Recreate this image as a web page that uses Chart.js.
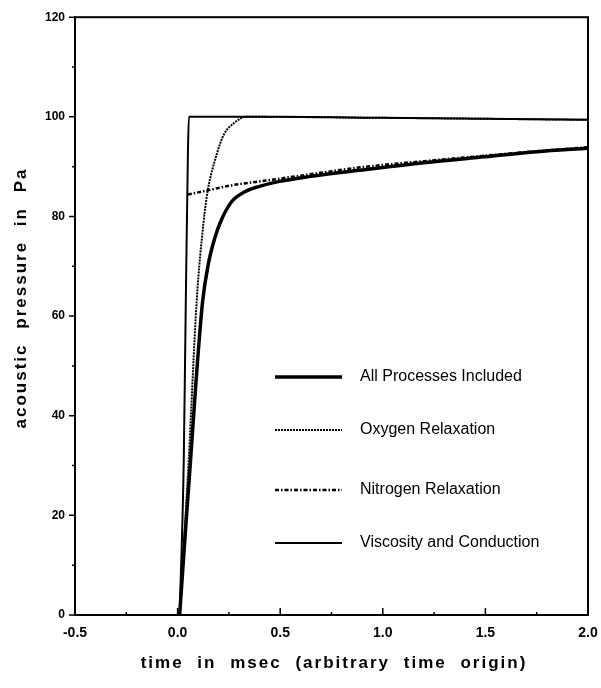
<!DOCTYPE html>
<html>
<head>
<meta charset="utf-8">
<script src="https://cdn.jsdelivr.net/npm/chart.js@4"></script>
<style>
  html, body { margin: 0; padding: 0; background: #fff; }
  canvas { display: block; }
</style>
</head>
<body>
<canvas id="pressureChart" width="601" height="688"></canvas>
<script>
// values (time in msec, pressure in Pa)
const allTime = [0.01, 0.035, 0.063, 0.09, 0.122, 0.15, 0.18, 0.21, 0.264, 0.33, 0.395, 0.49, 0.64, 0.93, 1.2, 1.5, 1.75, 2.0];
const allPressure = [0, 15, 31, 47, 63, 70.5, 75.5, 79, 83, 85, 86, 87, 88, 89.5, 90.8, 92, 93, 93.7];

const oxygenTime = [0.01, 0.054, 0.093, 0.127, 0.146, 0.19, 0.225, 0.283, 0.33, 1.0, 2.0];
const oxygenPressure = [0, 31, 63, 79, 85, 92.4, 96.4, 99, 100, 99.8, 99.4];

const nitrogenTime = [0.05, 0.12, 0.27, 0.43, 0.6, 0.9, 1.2, 1.5, 1.75, 2.0];
const nitrogenPressure = [84.4, 85, 86.3, 87.2, 88.2, 89.9, 91.1, 92.2, 93.1, 93.9];

const viscosityTime = [0.01, 0.03, 0.04, 0.05, 0.055, 0.5, 1.0, 2.0];
const viscosityPressure = [0, 31, 63, 92, 100, 100, 99.8, 99.4];

const xTicks = [-0.5, 0.0, 0.5, 1.0, 1.5, 2.0];
const yTicks = [0, 20, 40, 60, 80, 100, 120];

const toPoints = (xs, ys) => xs.map((x, i) => ({x: x, y: ys[i]}));

const FONT = "'Liberation Sans', Arial, sans-serif";

// frame, tick marks, axis titles and the in-plot legend
const decorations = {
    id: 'decorations',
    afterDraw(chart) {
        const {ctx, chartArea: a, scales: {x, y}} = chart;
        ctx.save();
        ctx.strokeStyle = '#000';
        ctx.fillStyle = '#000';
        ctx.lineWidth = 2;
        ctx.strokeRect(a.left, a.top, a.right - a.left, a.bottom - a.top);

        ctx.lineWidth = 1.5;
        ctx.beginPath();
        for (let v = y.min; v <= y.max; v += 10) {
            const py = y.getPixelForValue(v);
            ctx.moveTo(a.left, py);
            ctx.lineTo(a.left - (v % 20 === 0 ? 6 : 3), py);
        }
        for (let v = x.min; v <= x.max + 1e-9; v += 0.25) {
            const px = x.getPixelForValue(v);
            const major = Math.abs(v * 2 - Math.round(v * 2)) < 1e-6;
            ctx.moveTo(px, a.bottom);
            ctx.lineTo(px, a.bottom - (major ? 7 : 3));
        }
        ctx.stroke();

        // axis titles
        ctx.font = 'bold 17px ' + FONT;
        ctx.letterSpacing = '2px';
        ctx.wordSpacing = '7px';
        ctx.textAlign = 'center';
        ctx.textBaseline = 'middle';
        ctx.fillText('time in msec (arbitrary time origin)', 334, 663);
        ctx.save();
        ctx.translate(21, 298);
        ctx.rotate(-Math.PI / 2);
        ctx.wordSpacing = '8px';
        ctx.fillText('acoustic pressure in Pa', 0, 0);
        ctx.restore();

        // legend
        ctx.letterSpacing = '0px';
        ctx.wordSpacing = '0px';
        ctx.font = '16px ' + FONT;
        ctx.textAlign = 'left';
        const rows = [377, 430, 490, 543];
        chart.data.datasets.forEach((ds, i) => {
            const ly = rows[i];
            ctx.beginPath();
            ctx.lineWidth = ds.borderWidth;
            ctx.setLineDash(ds.borderDash || []);
            ctx.moveTo(275, ly);
            ctx.lineTo(342, ly);
            ctx.stroke();
            ctx.setLineDash([]);
            ctx.fillText(ds.label, 360, ly);
        });
        ctx.restore();
    }
};

const ctx = document.getElementById('pressureChart').getContext('2d');
const chart = new Chart(ctx, {
    type: 'line',
    data: {
        datasets: [
            {
                label: 'All Processes Included',
                data: toPoints(allTime, allPressure),
                borderColor: '#000',
                borderWidth: 3.5,
                cubicInterpolationMode: 'monotone',
            },
            {
                label: 'Oxygen Relaxation',
                data: toPoints(oxygenTime, oxygenPressure),
                borderColor: '#000',
                borderWidth: 2,
                borderDash: [2, 1],
                cubicInterpolationMode: 'monotone',
            },
            {
                label: 'Nitrogen Relaxation',
                data: toPoints(nitrogenTime, nitrogenPressure),
                borderColor: '#000',
                borderWidth: 2.5,
                borderDash: [4, 2, 1.5, 2],
                cubicInterpolationMode: 'monotone',
            },
            {
                label: 'Viscosity and Conduction',
                data: toPoints(viscosityTime, viscosityPressure),
                borderColor: '#000',
                borderWidth: 2,
                cubicInterpolationMode: 'monotone',
            },
        ],
    },
    options: {
        responsive: false,
        animation: false,
        events: [],
        elements: {
            point: {radius: 0},
        },
        layout: {
            padding: {top: 16, right: 13, left: 0, bottom: 0},
        },
        plugins: {
            legend: {display: false},
            tooltip: {enabled: false},
        },
        scales: {
            x: {
                type: 'linear',
                min: -0.5,
                max: 2.0,
                afterBuildTicks: (scale) => {
                    scale.ticks = xTicks.map(v => ({value: v}));
                },
                afterFit: (scale) => {
                    scale.height = 73;
                    scale.paddingLeft = 0;
                    scale.paddingRight = 0;
                },
                grid: {display: false, drawTicks: false},
                border: {display: false},
                ticks: {
                    color: '#000',
                    padding: 10,
                    font: {family: FONT, size: 14, weight: 'bold'},
                    callback: (v) => v.toFixed(1),
                },
            },
            y: {
                min: 0,
                max: 120,
                afterBuildTicks: (scale) => {
                    scale.ticks = yTicks.map(v => ({value: v}));
                },
                afterFit: (scale) => {
                    scale.width = 75;
                },
                grid: {display: false, drawTicks: false},
                border: {display: false},
                ticks: {
                    color: '#000',
                    padding: 10,
                    font: {family: FONT, size: 12, weight: 'bold'},
                },
            },
        },
    },
    plugins: [decorations],
});
</script>
</body>
</html>
